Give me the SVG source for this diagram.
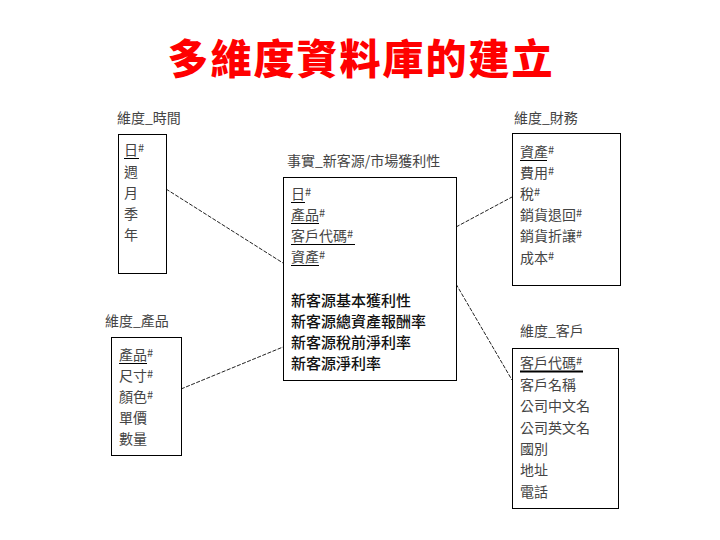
<svg xmlns="http://www.w3.org/2000/svg" width="720" height="540" viewBox="0 0 720 540">
<style>
.title{font-family:"Noto Sans CJK TC","Noto Sans CJK SC",sans-serif;font-size:41px;font-weight:900;fill:#ff0000;letter-spacing:2px}
.lbl{font-family:"Noto Sans CJK TC",sans-serif;font-size:14px;fill:#444}
.it{font-family:"Noto Sans CJK TC",sans-serif;font-size:14px;fill:#444}
.m{font-family:"Noto Sans CJK TC",sans-serif;font-size:15px;fill:#111;font-weight:500}
.box{fill:#fff;stroke:#000;stroke-width:1}
.ul{stroke:#000;stroke-width:1}
.con line{stroke:#222;stroke-width:1;stroke-dasharray:4 1.5}
</style>
<rect width="720" height="540" fill="#fff"/>
<text class="title" x="361" y="74" text-anchor="middle">多維度資料庫的建立</text>

<g class="con" id="connectors">
<line x1="166" y1="189" x2="283" y2="263"/>
<line x1="456" y1="227" x2="512" y2="197"/>
<line x1="456" y1="284" x2="512" y2="380"/>
<line x1="181" y1="389" x2="283" y2="347"/>
</g>

<g id="time">
<text class="lbl" x="117" y="123">維度_時間</text>
<rect class="box" x="118.500" y="134.500" width="48" height="139"/>
<text class="it" x="124" y="155">日<tspan font-size="11" dy="-3">#</tspan></text>
<line class="ul" x1="124" y1="158.500" x2="139" y2="158.500"/>
<text class="it" x="124" y="177">週</text>
<text class="it" x="124" y="198">月</text>
<text class="it" x="124" y="219">季</text>
<text class="it" x="124" y="240">年</text>
</g>

<g id="fact">
<text class="lbl" x="287" y="166">事實_新客源/市場獲利性</text>
<rect class="box" x="283.500" y="177.500" width="173" height="203"/>
<text class="it" x="291" y="199">日<tspan font-size="11" dy="-3">#</tspan></text>
<line class="ul" x1="291" y1="202.500" x2="305" y2="202.500"/>
<text class="it" x="291" y="220">產品<tspan font-size="11" dy="-3">#</tspan></text>
<line class="ul" x1="291" y1="223.500" x2="319" y2="223.500"/>
<text class="it" x="291" y="241">客戶代碼<tspan font-size="11" dy="-3">#</tspan></text>
<line class="ul" x1="291" y1="244.500" x2="355" y2="244.500"/>
<text class="it" x="291" y="262">資產<tspan font-size="11" dy="-3">#</tspan></text>
<line class="ul" x1="291" y1="265.500" x2="319" y2="265.500"/>
<text class="m" x="291" y="306">新客源基本獲利性</text>
<text class="m" x="291" y="327">新客源總資產報酬率</text>
<text class="m" x="291" y="348">新客源稅前淨利率</text>
<text class="m" x="291" y="369">新客源淨利率</text>
</g>

<g id="finance">
<text class="lbl" x="514" y="123">維度_財務</text>
<rect class="box" x="512.500" y="133.500" width="108" height="152"/>
<text class="it" x="520" y="157">資產<tspan font-size="11" dy="-3">#</tspan></text>
<line class="ul" x1="520" y1="160.500" x2="547" y2="160.500"/>
<text class="it" x="520" y="178">費用<tspan font-size="11" dy="-3">#</tspan></text>
<text class="it" x="520" y="199">稅<tspan font-size="11" dy="-3">#</tspan></text>
<text class="it" x="520" y="220">銷貨退回<tspan font-size="11" dy="-3">#</tspan></text>
<text class="it" x="520" y="241">銷貨折讓<tspan font-size="11" dy="-3">#</tspan></text>
<text class="it" x="520" y="263">成本<tspan font-size="11" dy="-3">#</tspan></text>
</g>

<g id="product">
<text class="lbl" x="105" y="326">維度_產品</text>
<rect class="box" x="111.500" y="337.500" width="70" height="118"/>
<text class="it" x="119" y="360">產品<tspan font-size="11" dy="-3">#</tspan></text>
<line class="ul" x1="119" y1="363.500" x2="147" y2="363.500"/>
<text class="it" x="119" y="381">尺寸<tspan font-size="11" dy="-3">#</tspan></text>
<text class="it" x="119" y="402">顏色<tspan font-size="11" dy="-3">#</tspan></text>
<text class="it" x="119" y="423">單價</text>
<text class="it" x="119" y="444">數量</text>
</g>

<g id="customer">
<text class="lbl" x="520" y="336">維度_客戶</text>
<rect class="box" x="512.500" y="348.500" width="106" height="160"/>
<text class="it" x="520" y="368">客戶代碼<tspan font-size="11" dy="-3">#</tspan></text>
<line x1="520" y1="371.500" x2="583" y2="371.500" stroke="#000" stroke-width="2"/>
<text class="it" x="520" y="390">客戶名稱</text>
<text class="it" x="520" y="411">公司中文名</text>
<text class="it" x="520" y="433">公司英文名</text>
<text class="it" x="520" y="454">國別</text>
<text class="it" x="520" y="475">地址</text>
<text class="it" x="520" y="497">電話</text>
</g>
</svg>
